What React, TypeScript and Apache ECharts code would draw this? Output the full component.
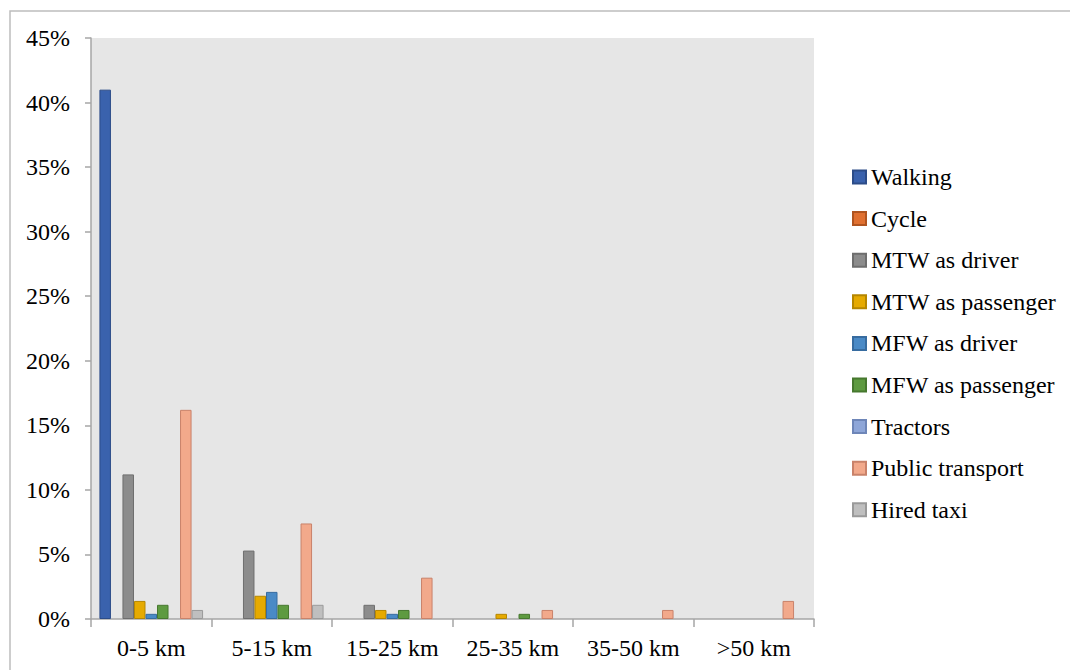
import React, { useEffect, useRef } from "react";
import * as echarts from "echarts";

// Share of trips by distance band and mode (%)
const categories = ["0-5 km", "5-15 km", "15-25 km", "25-35 km", "35-50 km", ">50 km"];
const seriesNames = [
  "Walking",
  "Cycle",
  "MTW as driver",
  "MTW as passenger",
  "MFW as driver",
  "MFW as passenger",
  "Tractors",
  "Public transport",
  "Hired taxi",
];
const walking = [41, 0, 0, 0, 0, 0];
const cycle = [0, 0, 0, 0, 0, 0];
const mtwDriver = [11.2, 5.3, 1.1, 0, 0, 0];
const mtwPassenger = [1.4, 1.8, 0.7, 0.4, 0, 0];
const mfwDriver = [0.4, 2.1, 0.4, 0, 0, 0];
const mfwPassenger = [1.1, 1.1, 0.7, 0.4, 0, 0];
const tractors = [0, 0, 0, 0, 0, 0];
const publicTransport = [16.2, 7.4, 3.2, 0.7, 0.7, 1.4];
const hiredTaxi = [0.7, 1.1, 0, 0, 0, 0];

const seriesValues = [
  walking,
  cycle,
  mtwDriver,
  mtwPassenger,
  mfwDriver,
  mfwPassenger,
  tractors,
  publicTransport,
  hiredTaxi,
];

const fills = ["#3A62AD", "#E07030", "#8C8C8C", "#E6AA00", "#4A8AC6", "#5E9A40", "#8EA6D8", "#F2A98B", "#BFBFBF"];
const strokes = ["#2C4C88", "#B0541F", "#6E6E6E", "#B58600", "#376CA0", "#46782E", "#6E86B8", "#C9826A", "#9A9A9A"];

const FONT = "'Liberation Serif', 'Times New Roman', serif";

export default function App() {
  const ref = useRef<HTMLDivElement>(null);

  useEffect(() => {
    if (!ref.current) return;
    const chart = echarts.init(ref.current, undefined, { renderer: "svg" });
    chart.setOption({
      animation: false,
      backgroundColor: "#FFFFFF",
      textStyle: { fontFamily: FONT },
      graphic: [
        {
          type: "rect",
          shape: { x: 10, y: 11, width: 1100, height: 700 },
          style: { fill: "none", stroke: "#BDBDBD", lineWidth: 1.5 },
          silent: true,
        },
      ],
      grid: {
        left: 91,
        top: 38,
        right: 256,
        bottom: 51,
        show: true,
        backgroundColor: "#E6E6E6",
        borderWidth: 0,
      },
      legend: {
        orient: "vertical",
        left: 852,
        top: 165,
        padding: 0,
        icon: "rect",
        itemWidth: 13,
        itemHeight: 13,
        itemGap: 17.6,
        data: seriesNames,
        textStyle: { fontFamily: FONT, fontSize: 24, color: "#000000" },
      },
      xAxis: {
        type: "category",
        data: categories,
        axisLine: { show: true, lineStyle: { color: "#A6A6A6", width: 1.5 } },
        axisTick: { show: true, length: 8, interval: 0, lineStyle: { color: "#A6A6A6", width: 1.5 } },
        axisLabel: { fontFamily: FONT, fontSize: 24, color: "#000000", margin: 17, interval: 0 },
      },
      yAxis: {
        type: "value",
        min: 0,
        max: 45,
        interval: 5,
        axisLine: { show: true, lineStyle: { color: "#A6A6A6", width: 1.5 } },
        axisTick: { show: true, length: 6, lineStyle: { color: "#A6A6A6", width: 1.5 } },
        splitLine: { show: false },
        axisLabel: {
          fontFamily: FONT,
          fontSize: 24,
          color: "#000000",
          margin: 21,
          formatter: "{value}%",
        },
      },
      series: seriesNames.map((name, i) => ({
        name,
        type: "bar",
        barGap: "0%",
        barCategoryGap: "14%",
        data: seriesValues[i].map((v) => (v === 0 ? null : v)),
        itemStyle: { color: fills[i], borderColor: strokes[i], borderWidth: 1 },
      })),
    });
    return () => chart.dispose();
  }, []);

  return (
    <div
      ref={ref}
      style={{ position: "fixed", left: 0, top: 0, width: 1070, height: 670 }}
    />
  );
}
